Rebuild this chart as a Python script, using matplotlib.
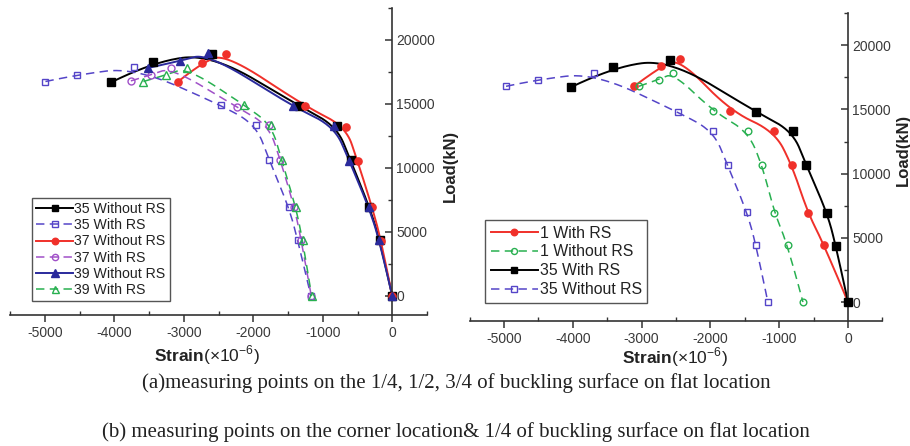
import numpy as np
import matplotlib
matplotlib.use('Agg')
import matplotlib.pyplot as plt
from matplotlib.ticker import MultipleLocator, FixedLocator

plt.rcParams['axes.unicode_minus'] = False
plt.rcParams['font.family'] = ['Liberation Sans', 'DejaVu Sans']
plt.rcParams['mathtext.fontset'] = 'custom'
plt.rcParams['mathtext.rm'] = 'Liberation Sans'
plt.rcParams['mathtext.bf'] = 'Liberation Sans:bold'

# ---------------- data: panel (a) ----------------
a_35_without_x = [-4040, -3440, -2600, -1340, -800, -600, -330, -180, 0]
a_35_without_y = [16700, 18300, 18900, 14850, 13250, 10600, 6950, 4400, 0]
a_35_with_x = [-4990, -4540, -3710, -2460, -1960, -1770, -1490, -1360, -1170]
a_35_with_y = [16750, 17270, 17850, 14900, 13350, 10620, 6950, 4380, 0]
a_37_without_x = [-3080, -2740, -2390, -1250, -670, -500, -290, -160, 0]
a_37_without_y = [16750, 18230, 18900, 14800, 13230, 10550, 6930, 4320, 0]
a_37_with_x = [-3760, -3470, -3180, -2240, -1780, -1610, -1410, -1310, -1165]
a_37_with_y = [16800, 17270, 17840, 14770, 13330, 10600, 6950, 4380, 0]
a_39_without_x = [-3520, -3060, -2650, -1430, -835, -617, -340, -184, 0]
a_39_without_y = [17800, 18350, 18950, 14800, 13250, 10550, 6950, 4350, 0]
a_39_with_x = [-3580, -3250, -2960, -2130, -1740, -1590, -1390, -1290, -1160]
a_39_with_y = [16750, 17270, 17840, 14920, 13360, 10620, 6950, 4380, 0]

# ---------------- data: panel (b) ----------------
b_1_with_x = [-3110, -2720, -2440, -1710, -1070, -815, -585, -345, 0]
b_1_with_y = [16800, 18360, 18910, 14860, 13300, 10650, 6960, 4420, 0]
b_1_without_x = [-3040, -2750, -2540, -1960, -1460, -1250, -1070, -875, -655]
b_1_without_y = [16800, 17330, 17840, 14860, 13300, 10700, 6960, 4420, 0]
b_35_with_x = [-4020, -3410, -2590, -1335, -805, -605, -305, -175, 0]
b_35_with_y = [16750, 18310, 18880, 14800, 13300, 10650, 6960, 4360, 0]
b_35_without_x = [-4970, -4505, -3690, -2475, -1955, -1750, -1470, -1335, -1165]
b_35_without_y = [16800, 17330, 17840, 14800, 13300, 10650, 7010, 4420, 0]

x_major_ticks = [-5000, -4000, -3000, -2000, -1000, 0]
y_major_ticks = [0, 5000, 10000, 15000, 20000]

caption_a = "(a)measuring points on the 1/4, 1/2, 3/4 of buckling surface on flat location"
caption_b = "(b) measuring points on the corner location& 1/4 of buckling surface on flat location"

RED = '#f0302a'
BLACK = '#000000'
NAVY = '#2a2a9c'
PURPLE = '#5545c8'
MAGENTA = '#a050c8'
GREEN = '#28b050'


def bspline2(xs, ys, n=40):
    """Clamped quadratic B-spline with data points as control points."""
    P = np.column_stack([xs, ys]).astype(float)
    m = len(P)
    if m < 3:
        return P[:, 0], P[:, 1]
    segs = []
    t = np.linspace(0, 1, n)[:, None]
    for i in range(m - 2):
        a = P[i] if i == 0 else (P[i] + P[i + 1]) / 2
        b = P[i + 1]
        c = P[i + 2] if i == m - 3 else (P[i + 1] + P[i + 2]) / 2
        seg = (1 - t) ** 2 * a + 2 * (1 - t) * t * b + t ** 2 * c
        segs.append(seg if i == 0 else seg[1:])
    C = np.vstack(segs)
    return C[:, 0], C[:, 1]


def series(ax, xs, ys, color, marker, filled, dashed, ms, label):
    cx, cy = bspline2(xs, ys)
    ls = (0, (5.5, 3.5)) if dashed else '-'
    lw = 1.1 if dashed else 1.4
    ax.plot(cx, cy, color=color, lw=lw, ls=ls, zorder=2)
    ax.plot(xs, ys, ls='none', marker=marker, ms=ms, color=color,
            mfc=color if filled else 'none', mec=color,
            mew=1.0, zorder=3)
    h, = ax.plot([], [], color=color, lw=lw, ls=ls, marker=marker, ms=ms * 0.9,
                 mfc=color if filled else 'none', mec=color, mew=1.0, label=label)
    return h


def style_axes(ax):
    ax.set_xlim(-5500, 500)
    ax.set_ylim(-1500, 22500)
    ax.set_facecolor('none')
    ax.spines['left'].set_visible(False)
    ax.spines['top'].set_visible(False)
    ax.spines['right'].set_position(('data', 0))
    for s in ('right', 'bottom'):
        ax.spines[s].set_color('#333333')
        ax.spines[s].set_linewidth(1.2)
    ax.yaxis.tick_right()
    ax.xaxis.set_major_locator(FixedLocator(x_major_ticks))
    ax.xaxis.set_minor_locator(MultipleLocator(500))
    ax.yaxis.set_major_locator(FixedLocator(y_major_ticks))
    ax.yaxis.set_minor_locator(MultipleLocator(2500))
    ax.tick_params(axis='x', which='major', direction='out', length=5, width=1.1,
                   color='#333333', labelsize=10, labelcolor='#3a3a3a', pad=3)
    ax.tick_params(axis='x', which='minor', direction='in', length=3, width=1.0,
                   color='#333333')
    ax.tick_params(axis='y', which='major', direction='in', length=5, width=1.1,
                   color='#333333', labelsize=10, labelcolor='#3a3a3a', pad=3)
    ax.tick_params(axis='y', which='minor', direction='in', length=3, width=1.0,
                   color='#333333')


fig = plt.figure(figsize=(9.1, 4.46), dpi=100)
W, H = 910.0, 446.0

axL = fig.add_axes([10 / W, 0.2933, 417 / W, 0.689])
style_axes(axL)
hL = [
    series(axL, a_35_without_x, a_35_without_y, BLACK, 's', True, False, 5.2, '35 Without RS'),
    series(axL, a_35_with_x, a_35_with_y, PURPLE, 's', False, True, 4.6, '35 With RS'),
    series(axL, a_37_without_x, a_37_without_y, RED, 'o', True, False, 5.2, '37 Without RS'),
    series(axL, a_37_with_x, a_37_with_y, MAGENTA, 'o', False, True, 5.0, '37 With RS'),
    series(axL, a_39_without_x, a_39_without_y, NAVY, '^', True, False, 6.0, '39 Without RS'),
    series(axL, a_39_with_x, a_39_with_y, GREEN, '^', False, True, 5.6, '39 With RS'),
]
legL = fig.legend(handles=hL, loc='upper left', bbox_to_anchor=(32 / W, 1 - 198 / H),
                  bbox_transform=fig.transFigure, borderaxespad=0, fontsize=10.2,
                  handlelength=2.6, handletextpad=0.1, labelspacing=0.15,
                  borderpad=0.3, fancybox=False, framealpha=1, edgecolor='#555555')
legL.get_frame().set_linewidth(1.0)
for t in legL.get_texts():
    t.set_color('#222222')

axR = fig.add_axes([469.6 / W, 0.2796, 412.8 / W, 0.691])
style_axes(axR)
hR = [
    series(axR, b_1_with_x, b_1_with_y, RED, 'o', True, False, 5.2, '1 With RS'),
    series(axR, b_1_without_x, b_1_without_y, GREEN, 'o', False, True, 4.8, '1 Without RS'),
    series(axR, b_35_with_x, b_35_with_y, BLACK, 's', True, False, 5.2, '35 With RS'),
    series(axR, b_35_without_x, b_35_without_y, PURPLE, 's', False, True, 4.4, '35 Without RS'),
]
legR = fig.legend(handles=hR, loc='upper left', bbox_to_anchor=(485 / W, 1 - 220 / H),
                  bbox_transform=fig.transFigure, borderaxespad=0, fontsize=11.4,
                  handlelength=3.0, handletextpad=0.1, labelspacing=0.25,
                  borderpad=0.35, fancybox=False, framealpha=1, edgecolor='#555555')
legR.get_frame().set_linewidth(1.0)
for t in legR.get_texts():
    t.set_color('#222222')

# axis titles
strain = r'$\mathbf{Strain}$(×$10^{-6}$)'
fig.text(207 / W, 1 - 355 / H, strain, ha='center', va='center', fontsize=12.5, color='#222222')
fig.text(675 / W, 1 - 357 / H, strain, ha='center', va='center', fontsize=12.5, color='#222222')
fig.text(450 / W, 1 - 166 / H, 'Load(kN)', rotation=90, ha='center', va='center',
         fontsize=12, fontweight='bold', color='#222222')
fig.text(903 / W, 1 - 150 / H, 'Load(kN)', rotation=90, ha='center', va='center',
         fontsize=12, fontweight='bold', color='#222222')

# captions
fig.text(456 / W, 1 - 383 / H, caption_a, ha='center', va='center',
         family='Liberation Serif', fontsize=15, color='#222222')
fig.text(456 / W, 1 - 432 / H, caption_b, ha='center', va='center',
         family='Liberation Serif', fontsize=15, color='#222222')

fig.savefig('out.png', dpi=100)
